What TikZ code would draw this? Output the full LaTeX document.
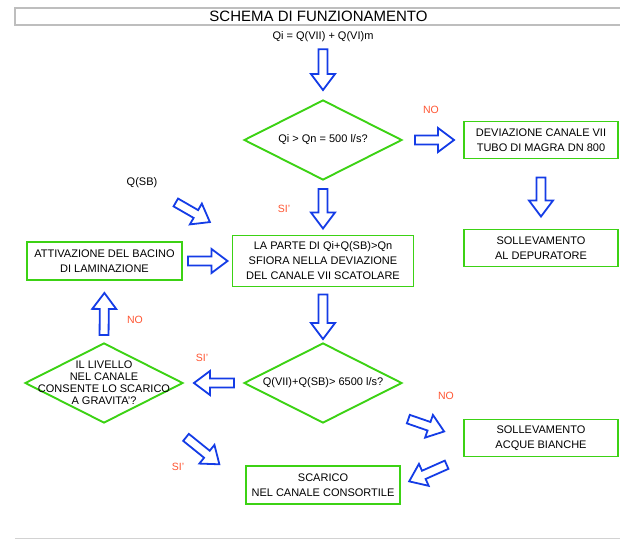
\documentclass[tikz,border=0pt]{standalone}
\usepackage{fontspec}
\setmainfont{Liberation Sans}
\usetikzlibrary{shapes.geometric,positioning,calc}
\definecolor{boxgreen}{RGB}{60,210,20}
\definecolor{flowblue}{RGB}{20,60,230}
\definecolor{answerred}{RGB}{255,85,50}
\definecolor{framegray}{RGB}{190,190,190}

\tikzset{
  gap a/.store in=\gapa, gap b/.store in=\gapb, gap a=6pt, gap b=6pt,
  flow/.style={draw=flowblue, line width=1.8pt,
    to path={let \p1=(\tikztostart), \p2=(\tikztotarget),
      \n1={atan2(\y2-\y1,\x2-\x1)}, \n2={veclen(\x2-\x1,\y2-\y1)-\gapa-\gapb-16pt} in
      ($(\p1)+(\n1:\gapa)+(\n1+90:4.5pt)$) -- ++(\n1:\n2) -- ++(\n1+90:7.5pt)
      -- ($(\p2)+(\n1:-\gapb)$) -- ($(\p1)+(\n1:\gapa)+(\n1:\n2)+(\n1-90:12pt)$)
      -- ++(\n1+90:7.5pt) -- ($(\p1)+(\n1:\gapa)+(\n1-90:4.5pt)$) -- cycle}}
}

\begin{document}
\begin{tikzpicture}[x=1pt, y=1pt,
  procbox/.style={draw=boxgreen, line width=1.9pt, minimum width=154pt, minimum height=37pt, align=center, inner sep=2pt, font=\fontsize{11}{14.5}\selectfont},
  decision/.style={diamond, draw=boxgreen, line width=1.9pt, aspect=2, minimum width=158pt, minimum height=80pt, inner xsep=-25pt, inner ysep=-15pt, align=center, font=\fontsize{11}{12}\selectfont},
  answer/.style={text=answerred, font=\fontsize{10.5}{12}\selectfont, inner sep=1pt}]
    \useasboundingbox (0,0) rectangle (620,-540);

    \node[draw=framegray, line width=1.2pt, minimum width=607pt, minimum height=17pt, inner sep=0pt, font=\fontsize{15}{17}\selectfont] (title) at (318.5,-16.5) {SCHEMA DI FUNZIONAMENTO};

    \node[decision] (d1) at (323,-140) {Qi > Qn = 500 l/s?};
    \node[font=\fontsize{11}{13}\selectfont, node distance=103pt, above of=d1] (qin) {Qi = Q(VII) + Q(VI)m};
    \node[procbox, node distance=218pt, right of=d1] (dev) {DEVIAZIONE CANALE VII\\TUBO DI MAGRA DN 800};
    \node[procbox, node distance=108pt, below of=dev] (dep) {SOLLEVAMENTO\\AL DEPURATORE};
    \node[procbox, minimum width=181pt, minimum height=51pt, font=\fontsize{11}{15}\selectfont, node distance=121pt, below of=d1] (part) {LA PARTE DI Qi+Q(SB)>Qn\\SFIORA NELLA DEVIAZIONE\\DEL CANALE VII SCATOLARE};
    \node[procbox, minimum width=155pt, minimum height=38pt, node distance=218.5pt, left of=part] (att) {ATTIVAZIONE DEL BACINO\\DI LAMINAZIONE};
    \node[font=\fontsize{11}{13}\selectfont] (qsb) at (142,-183) {Q(SB)};
    \node[decision, node distance=122pt, below of=part] (d2) {Q(VII)+Q(SB)> 6500 l/s?};
    \node[decision, node distance=219pt, left of=d2] (d3) {IL LIVELLO\\NEL CANALE\\CONSENTE LO SCARICO\\A GRAVITA'?};
    \node[procbox, node distance=190pt, below of=dep] (acq) {SOLLEVAMENTO\\ACQUE BIANCHE};
    \node[procbox, minimum height=38pt, node distance=102pt, below of=d2] (scar) {SCARICO\\NEL CANALE CONSORTILE};

    \node[answer] (no1) at (431,-110) {NO};
    \node[answer] (si1) at (284,-209) {SI'};
    \node[answer] (no2) at (135,-320) {NO};
    \node[answer] (si2) at (202,-358) {SI'};
    \node[answer] (no3) at (446,-396) {NO};
    \node[answer] (si3) at (178,-467) {SI'};

    \draw[flow, gap a=3.5pt, gap b=9pt] (qin.south) to (d1.north);
    \draw[flow, gap a=12pt, gap b=9pt] (d1.east) to (dev.west);
    \draw[flow, gap a=18pt, gap b=12pt] (dev.south) to (dep.north);
    \draw[flow, gap a=8pt, gap b=6pt] (d1.south) to (part.north);
    \draw[flow, gap a=39pt, gap b=25pt] (qsb) to (part.north west);
    \draw[flow, gap a=5pt, gap b=4pt] (att.east) to (part.west);
    \draw[flow, gap a=7pt, gap b=3pt] (part.south) to (d2.north);
    \draw[flow, gap a=9pt, gap b=10pt] (d2.west) to (d3.east); % SI'
    \draw[flow, gap a=7pt, gap b=12pt] (d3.north) to (att.south); % NO
    \draw[flow, gap a=48pt, gap b=20pt] (d2.south east) to (acq.west); % NO
    \draw[flow, gap a=54pt, gap b=33pt] (d3.south east) to (scar.west); % SI'
    \draw[flow, gap a=18pt, gap b=9pt] (acq.south west) to (scar.east);

    \draw[framegray!70, line width=0.8pt] (15,-538.5) -- (620,-538.5);
\end{tikzpicture}
\end{document}
